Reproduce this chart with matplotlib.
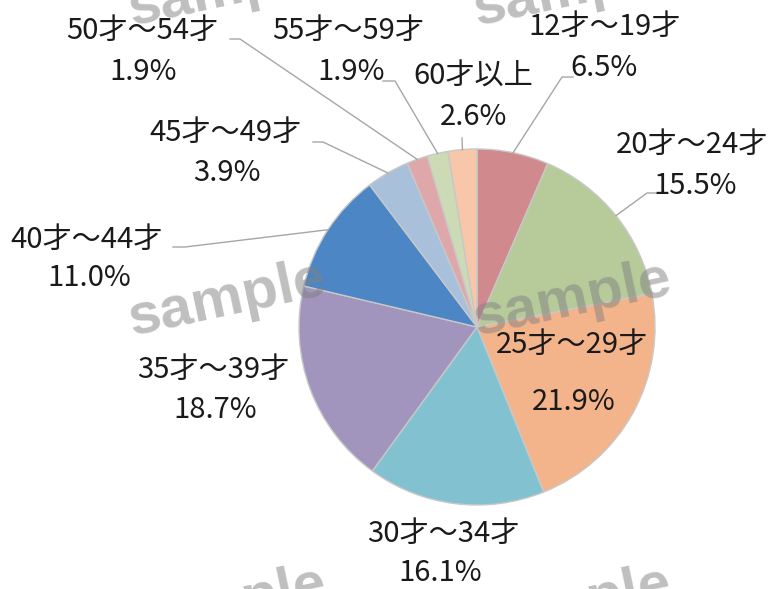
"""Age distribution pie chart (Japanese labels) with 'sample' watermark."""
import matplotlib
matplotlib.use("Agg")
import numpy as np
import matplotlib.pyplot as plt

# ----- data -----
ages = ["12才～19才", "20才～24才", "25才～29才", "30才～34才", "35才～39才",
        "40才～44才", "45才～49才", "50才～54才", "55才～59才", "60才以上"]
shares = [6.5, 15.5, 21.9, 16.1, 18.7, 11.0, 3.9, 1.9, 1.9, 2.6]
colors = ["#D08A8E", "#B7CB9A", "#F4B48B", "#82C2D0", "#A295BD",
          "#4C86C5", "#A9C0DB", "#DEA8AB", "#CCDBB6", "#F8C7A9"]

# ----- layout (pixel coords, y measured from the top) -----
W, H = 775, 589
CX, CY, R = 477, 327, 178
name_pos = [(605, 27), (692, 145), (572, 345), (443, 534), (213, 370),
            (87, 240), (226, 133), (142, 31), (348, 31), (473, 77)]
pct_pos = [(604, 68), (695, 186), (574, 402), (440, 573), (215, 410),
           (89, 278), (227, 173), (143, 72), (351, 72), (474, 117)]
# leader: text-side point, knee (None = no leader line)
leaders = [((573, 77), (562, 77)), ((657, 193), (647, 193)), None, None, None,
           ((173, 247), (185, 247)), ((313, 142), (323, 142)),
           ((230, 39), (240, 39)), ((383, 81), (395, 81)),
           ((462, 138), (462, 138))]

FONT = ["Noto Sans CJK JP", "DejaVu Sans"]


def py(y):
    return H - y


fig = plt.figure(figsize=(W / 100, H / 100), dpi=100)
ax = fig.add_axes([0, 0, 1, 1])

wedges, _ = ax.pie(shares, colors=colors, startangle=90, counterclock=False,
                   center=(CX, py(CY)), radius=R,
                   wedgeprops=dict(edgecolor="#C8C8C8", linewidth=1.0))
ax.set_xlim(0, W)
ax.set_ylim(0, H)
ax.set_aspect("equal")
ax.axis("off")

for w, name, pct, npos, ppos, ld in zip(wedges, ages, shares, name_pos, pct_pos, leaders):
    ax.text(npos[0], py(npos[1]), name, ha="center", va="center",
            fontsize=21, color="#1A1A1A", family=FONT, zorder=5)
    ax.text(ppos[0], py(ppos[1]), f"{pct:.1f}%", ha="center", va="center",
            fontsize=21, color="#1A1A1A", family=FONT, zorder=5)
    if ld is None:
        continue
    mid = np.deg2rad((w.theta1 + w.theta2) / 2)
    ex, ey = CX + R * np.cos(mid), py(CY) + R * np.sin(mid)
    (tx, ty), (kx, ky) = ld
    ax.plot([tx, kx, ex], [py(ty), py(ky), ey], color="#A6A6A6", lw=1.0, zorder=4)

# watermark grid (cut at the edges, as in the source image)
for wx in (228, 573):
    for wy in (-10, 300, 605):
        ax.text(wx, py(wy), "sample", ha="center", va="center", rotation=12,
                rotation_mode="anchor", fontsize=42, fontweight="bold",
                family="Liberation Sans", color="#808080", alpha=0.5, zorder=6)

fig.savefig("out.png", dpi=100)
